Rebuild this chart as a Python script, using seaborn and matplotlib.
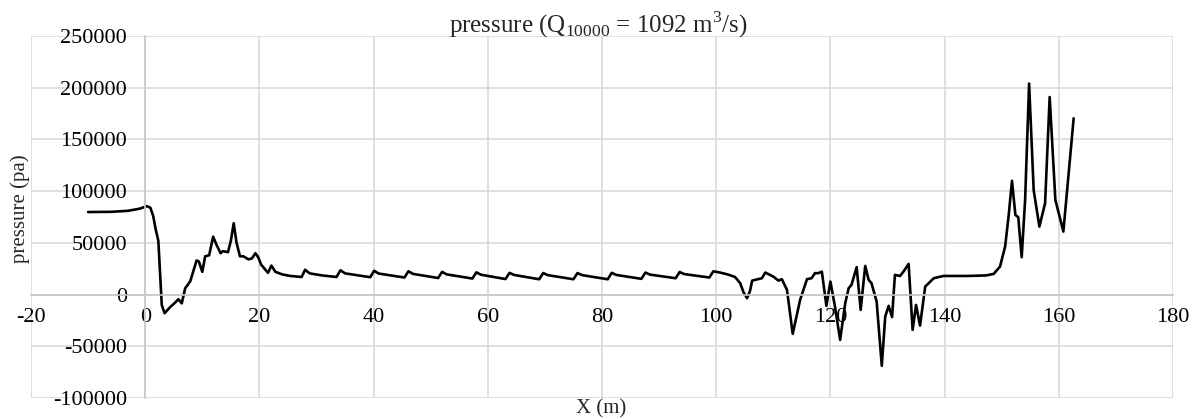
import pandas as pd
import seaborn as sns
import matplotlib.pyplot as plt

# === 1. Data ===
x_m = [
    -10, -6, -3, -1, 0.3, 0.9, 1.4, 1.8, 2.3, 2.6, 2.9, 3.4, 4.4, 5.2, 5.8, 6.4,
    7.0, 7.9, 8.5, 9.0, 9.4, 10.0, 10.5, 11.2, 11.9, 12.5, 13.2, 13.6, 14.5, 15.0,
    15.5, 16.0, 16.6, 17.2, 18.1, 18.7, 19.3, 19.8, 20.3, 20.9, 21.5, 22.1, 22.8,
    24.0, 25.4, 27.4, 28.0, 28.8, 31.0,
    33.5, 34.2, 35.0, 39.4, 40.1, 40.9, 45.4, 46.1, 46.9, 51.3, 52.0, 52.8,
    57.3, 58.0, 58.8, 63.1, 63.8, 64.6, 69.0, 69.7, 70.5, 75.0, 75.7, 76.5,
    81.0, 81.7, 82.5, 86.9, 87.6, 88.4, 92.9, 93.6, 94.4, 98.8, 99.5, 100.5,
    102.0, 103.3, 104.2, 104.8, 105.4, 105.9, 106.3, 108.0, 108.6, 110.0, 110.9,
    111.5, 112.4, 113.4, 114.7, 115.9, 116.7, 117.3, 117.9, 118.5, 119.3, 120.0,
    120.8, 121.7, 122.6, 123.2, 123.7, 124.6, 125.3, 126.1, 126.7, 127.2, 128.1,
    129.0, 129.6, 130.2, 130.8, 131.3, 132.2, 132.8, 133.7, 134.4, 135.0, 135.7,
    136.6, 138.1, 139.8, 144.0, 147.3, 148.6, 149.7, 150.6, 151.2, 151.8, 152.4,
    152.9, 153.5, 154.1, 154.8, 155.6, 156.6, 157.6, 158.4, 159.4, 160.8, 162.6,
]
pressure_pa = [
    79800, 80000, 81000, 83000, 85500, 84000, 76000, 64000, 52000, 20000, -10000,
    -18000, -12000, -8000, -4500, -8500, 6000, 13000, 24000, 33000, 32000, 22000,
    37000, 38000, 56000, 48000, 40000, 42000, 41000, 52000, 69000, 50000, 37000,
    37000, 34000, 35000, 40000, 36000, 29000, 25000, 21000, 28000, 22000,
    19500, 18000, 17000, 24000, 20500, 18500,
    17000, 23500, 20500, 16800, 23000, 20300, 16500, 22500, 20000, 16000, 22000,
    19500, 15500, 21500, 19200, 15000, 21000, 19000, 14800, 20800, 18800, 14800,
    20800, 18800, 14800, 21000, 19000, 15200, 21300, 19300, 15800, 21800, 19800,
    16500, 22500, 21500,
    19500, 17000, 11000, 2000, -3500, 3000, 13500, 15800, 21300, 17400, 13500,
    14900, 4500, -38000, -5000, 14900, 15800, 20700, 20700, 22200, -10900, 12600,
    -11600, -43800, -8300, 6200, 9400, 26500, -14800, 27700, 14200, 11000, -6800,
    -68900, -21300, -10900, -21800, 19000, 18000, 22200, 29700, -34100, -10000,
    -30000, 7700, 15800, 18000, 18000, 18500, 20000, 27000, 46400, 75400, 110000,
    77000, 74800, 36100, 91500, 204000, 101000, 65700, 88300, 191000, 91500,
    60900, 170400,
]
x_ticks = [-20, 0, 20, 40, 60, 80, 100, 120, 140, 160, 180]
y_ticks = [-100000, -50000, 0, 50000, 100000, 150000, 200000, 250000]

df = pd.DataFrame({"X (m)": x_m, "pressure (pa)": pressure_pa})

# === 2. Style ===
sns.set_theme(style="white")
plt.rcParams["font.family"] = ["Liberation Serif", "DejaVu Serif"]
plt.rcParams["mathtext.fontset"] = "custom"
plt.rcParams["mathtext.rm"] = "Liberation Serif"
plt.rcParams["axes.unicode_minus"] = False

fig = plt.figure(figsize=(11.95, 4.19), dpi=100)
ax = fig.add_axes([31 / 1195, 21 / 419, 1142 / 1195, 362 / 419])

sns.lineplot(data=df, x="X (m)", y="pressure (pa)", ax=ax, color="black",
             linewidth=1.9, sort=False, estimator=None)

# === 3. Axes like the spreadsheet chart ===
ax.set_xlim(-20, 180)
ax.set_ylim(-100000, 250000)
ax.set_xticks(x_ticks)
ax.set_yticks(y_ticks)
ax.grid(True, color="#d9d9d9", linewidth=1.2)
ax.set_axisbelow(True)

for side in ["top", "right"]:
    ax.spines[side].set_visible(False)
ax.spines["left"].set_position(("data", 0))
ax.spines["bottom"].set_position(("data", 0))
ax.spines["left"].set_color("#c8c8c8")
ax.spines["bottom"].set_color("#c8c8c8")
ax.spines["left"].set_linewidth(1.2)
ax.spines["bottom"].set_linewidth(1.2)

ax.tick_params(axis="both", length=0, labelsize=16, colors="black")
ax.tick_params(axis="y", pad=13)
ax.tick_params(axis="x", pad=10)
ax.set_xlabel("")
ax.set_ylabel("")

fig.text(0.501, 1 - 9 / 419, r"pressure (Q$_{10000}$ = 1092 m$^{3}$/s)",
         ha="center", va="top", fontsize=18)
fig.text(0.503, 1 / 419, "X (m)", ha="center", va="bottom", fontsize=15)
fig.text(10 / 1195, 0.5 + 1 / 419, "pressure (pa)", rotation=90,
         ha="left", va="center", fontsize=15)

# === 4. Save ===
plt.savefig("out.png", dpi=100)
